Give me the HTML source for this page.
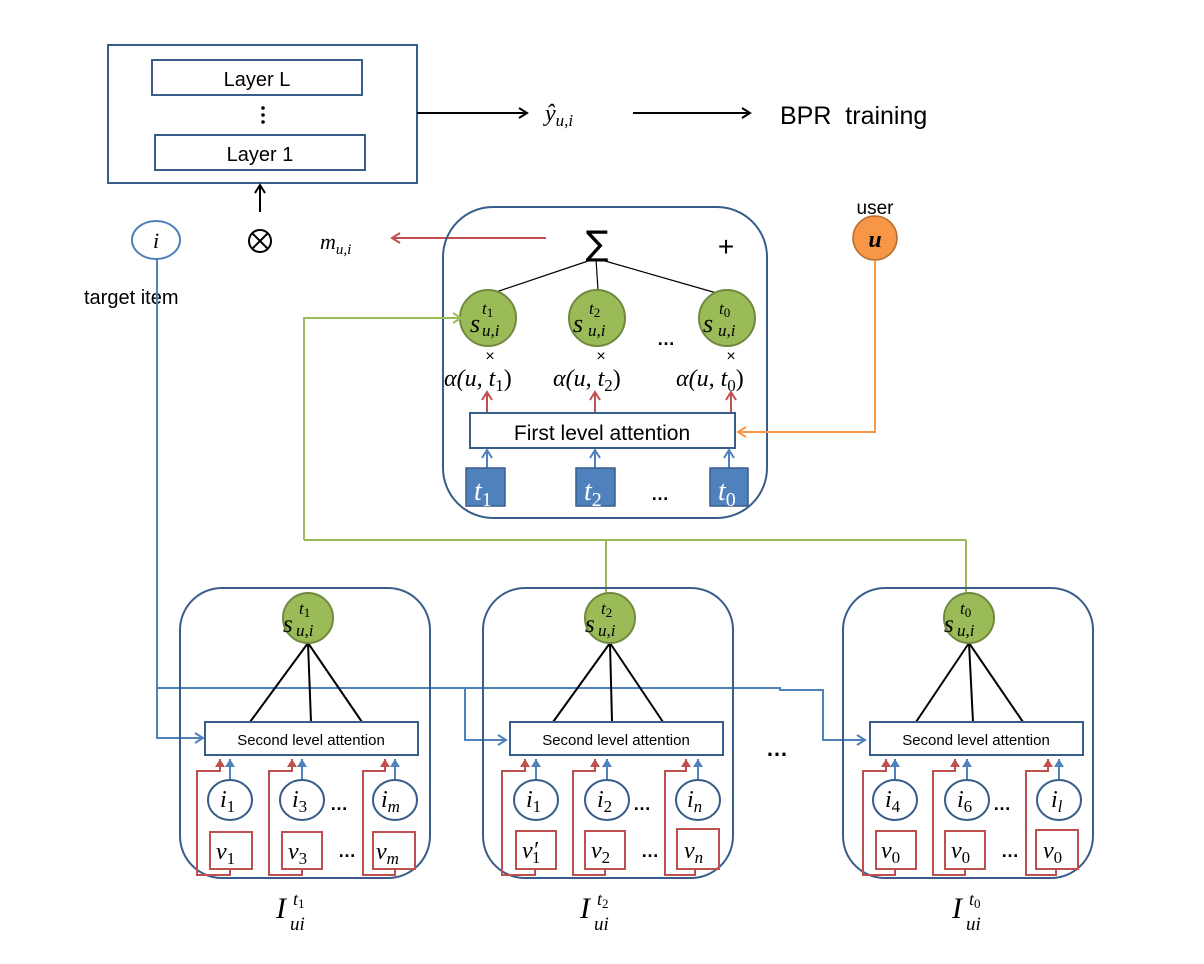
<!DOCTYPE html>
<html><head><meta charset="utf-8"><style>
html,body{margin:0;padding:0;background:#fff;}
svg{display:block;}
.m{font-family:"Liberation Serif",serif;font-style:italic;}
.s{font-family:"Liberation Sans",sans-serif;}
.d{font-style:normal;}
.dots{font-family:"Liberation Sans",sans-serif;font-size:18px;font-weight:bold;}
</style></head><body>
<svg width="1204" height="964" viewBox="0 0 1204 964" xmlns="http://www.w3.org/2000/svg">
<defs>
<marker id="ak" markerWidth="12" markerHeight="12" refX="10" refY="6" orient="auto" markerUnits="userSpaceOnUse"><path d="M2,1 L10,6 L2,11" fill="none" stroke="#000" stroke-width="2"/></marker>
<marker id="ab" markerWidth="12" markerHeight="12" refX="10" refY="6" orient="auto" markerUnits="userSpaceOnUse"><path d="M2,1 L10,6 L2,11" fill="none" stroke="#4f81bd" stroke-width="2"/></marker>
<marker id="ar" markerWidth="12" markerHeight="12" refX="10" refY="6" orient="auto" markerUnits="userSpaceOnUse"><path d="M2,1 L10,6 L2,11" fill="none" stroke="#c0504d" stroke-width="2"/></marker>
<marker id="ag" markerWidth="12" markerHeight="12" refX="10" refY="6" orient="auto" markerUnits="userSpaceOnUse"><path d="M2,1 L10,6 L2,11" fill="none" stroke="#9bbb59" stroke-width="2"/></marker>
<marker id="ao" markerWidth="12" markerHeight="12" refX="10" refY="6" orient="auto" markerUnits="userSpaceOnUse"><path d="M2,1 L10,6 L2,11" fill="none" stroke="#f79646" stroke-width="2"/></marker>
<marker id="tr" markerWidth="10" markerHeight="10" refX="8" refY="5" orient="auto" markerUnits="userSpaceOnUse"><path d="M0,0 L8,5 L0,10 Z" fill="#c0504d"/></marker>
<marker id="tb" markerWidth="10" markerHeight="10" refX="8" refY="5" orient="auto" markerUnits="userSpaceOnUse"><path d="M0,0 L8,5 L0,10 Z" fill="#4f81bd"/></marker>
</defs>

<!-- top box -->
<rect x="108" y="45" width="309" height="138" fill="none" stroke="#385d8a" stroke-width="2"/>
<rect x="152" y="60" width="210" height="35" fill="none" stroke="#385d8a" stroke-width="2"/>
<text x="257" y="86" text-anchor="middle" class="s" font-size="20">Layer L</text>
<circle cx="263" cy="108" r="1.8"/><circle cx="263" cy="115" r="1.8"/><circle cx="263" cy="122" r="1.8"/>
<rect x="155" y="135" width="210" height="35" fill="none" stroke="#385d8a" stroke-width="2"/>
<text x="260" y="161" text-anchor="middle" class="s" font-size="20">Layer 1</text>

<line x1="417" y1="113" x2="527" y2="113" stroke="#000" stroke-width="2" marker-end="url(#ak)"/>
<text x="545" y="121" class="m" font-size="24">ŷ<tspan font-size="17" dy="5">u,i</tspan></text>
<line x1="633" y1="113" x2="750" y2="113" stroke="#000" stroke-width="2" marker-end="url(#ak)"/>
<text x="780" y="124" class="s" font-size="25">BPR&#160; training</text>

<line x1="260" y1="212" x2="260" y2="185" stroke="#000" stroke-width="2" marker-end="url(#ak)"/>
<circle cx="260" cy="241" r="11" fill="none" stroke="#000" stroke-width="2"/>
<line x1="252" y1="233" x2="268" y2="249" stroke="#000" stroke-width="2"/>
<line x1="268" y1="233" x2="252" y2="249" stroke="#000" stroke-width="2"/>

<ellipse cx="156" cy="240" rx="24" ry="19" fill="#fff" stroke="#4f81bd" stroke-width="2"/>
<text x="156" y="248" text-anchor="middle" class="m" font-size="22">i</text>
<text x="84" y="304" class="s" font-size="20">target item</text>

<text x="320" y="249" class="m" font-size="22">m<tspan font-size="15" dy="5">u,i</tspan></text>
<line x1="546" y1="238" x2="392" y2="238" stroke="#c0504d" stroke-width="2" marker-end="url(#ar)"/>

<!-- blue target item lines -->
<path d="M157,259 V738 H203" fill="none" stroke="#4f81bd" stroke-width="2" marker-end="url(#ab)"/>
<path d="M157,688 H465 V740 H506" fill="none" stroke="#4f81bd" stroke-width="2" marker-end="url(#ab)"/>
<path d="M465,688 H780 V690 H823 V740 H865" fill="none" stroke="#4f81bd" stroke-width="2" marker-end="url(#ab)"/>

<!-- middle box -->
<rect x="443" y="207" width="324" height="311" rx="50" fill="none" stroke="#385d8a" stroke-width="2"/>
<text x="597" y="255" text-anchor="middle" font-family="DejaVu Sans,sans-serif" font-size="34">∑</text>
<text x="726" y="256" text-anchor="middle" class="s" font-size="28">+</text>
<line x1="594" y1="259" x2="496" y2="292" stroke="#000" stroke-width="1.2"/>
<line x1="596" y1="259" x2="598" y2="290" stroke="#000" stroke-width="1.2"/>
<line x1="598" y1="259" x2="720" y2="294" stroke="#000" stroke-width="1.2"/>
<g class="m">
<circle cx="488" cy="318" r="28" fill="#9bbb59" stroke="#71893f" stroke-width="2"/>
<text x="470" y="332" font-size="26">s</text><text x="482" y="314" font-size="17">t<tspan class="d" font-size="13" dy="3">1</tspan></text><text x="482" y="336" font-size="17">u,i</text>
<circle cx="597" cy="318" r="28" fill="#9bbb59" stroke="#71893f" stroke-width="2"/>
<text x="573" y="332" font-size="26">s</text><text x="589" y="314" font-size="17">t<tspan class="d" font-size="13" dy="3">2</tspan></text><text x="588" y="336" font-size="17">u,i</text>
<circle cx="727" cy="318" r="28" fill="#9bbb59" stroke="#71893f" stroke-width="2"/>
<text x="703" y="332" font-size="26">s</text><text x="719" y="314" font-size="17">t<tspan class="d" font-size="13" dy="3">0</tspan></text><text x="718" y="336" font-size="17">u,i</text>
</g>
<text x="657" y="345" class="dots">…</text>
<g class="s" font-size="16" text-anchor="middle"><text x="490" y="361">×</text><text x="601" y="361">×</text><text x="731" y="361">×</text></g>
<g class="m" font-size="24"><text x="444" y="386">α(u, t<tspan class="d" font-size="17" dy="5">1</tspan><tspan class="d" dy="-5">)</tspan></text>
<text x="553" y="386">α(u, t<tspan class="d" font-size="17" dy="5">2</tspan><tspan class="d" dy="-5">)</tspan></text>
<text x="676" y="386">α(u, t<tspan class="d" font-size="17" dy="5">0</tspan><tspan class="d" dy="-5">)</tspan></text></g>
<g stroke="#c0504d" stroke-width="2">
<line x1="487" y1="413" x2="487" y2="392" marker-end="url(#ar)"/>
<line x1="595" y1="413" x2="595" y2="392" marker-end="url(#ar)"/>
<line x1="731" y1="413" x2="731" y2="392" marker-end="url(#ar)"/>
</g>
<rect x="470" y="413" width="265" height="35" fill="#fff" stroke="#385d8a" stroke-width="2"/>
<text x="602" y="440" text-anchor="middle" class="s" font-size="21">First level attention</text>
<g stroke="#4f81bd" stroke-width="2">
<line x1="487" y1="468" x2="487" y2="450" marker-end="url(#ab)"/>
<line x1="595" y1="468" x2="595" y2="450" marker-end="url(#ab)"/>
<line x1="729" y1="468" x2="729" y2="450" marker-end="url(#ab)"/>
</g>
<g fill="#4f81bd" stroke="#385d8a" stroke-width="1.5">
<rect x="466" y="468" width="39" height="38"/><rect x="576" y="468" width="39" height="38"/><rect x="710" y="468" width="38" height="38"/>
</g>
<g class="m" fill="#fff" font-size="28"><text x="474" y="500">t<tspan class="d" font-size="20" dy="6">1</tspan></text><text x="584" y="500">t<tspan class="d" font-size="20" dy="6">2</tspan></text><text x="718" y="500">t<tspan class="d" font-size="20" dy="6">0</tspan></text></g>
<text x="651" y="500" class="dots">…</text>

<!-- user -->
<text x="875" y="214" text-anchor="middle" class="s" font-size="19">user</text>
<circle cx="875" cy="238" r="22" fill="#f79646" stroke="#b66d31" stroke-width="1.5"/>
<text x="875" y="247" text-anchor="middle" class="m" font-size="24" font-weight="bold">u</text>
<path d="M875,260 V432 H738" fill="none" stroke="#f79646" stroke-width="2" marker-end="url(#ao)"/>

<!-- green -->
<path d="M304,540 V318 H461" fill="none" stroke="#9bbb59" stroke-width="2" marker-end="url(#ag)"/>
<path d="M304,540 H966 M606,540 V593 M966,540 V593" fill="none" stroke="#9bbb59" stroke-width="2"/>

<text x="766" y="756" class="s" font-size="22" font-weight="bold">…</text>

<!-- bottom box 1 -->
<g transform="translate(180,0)">
<rect x="0" y="588" width="250" height="290" rx="42" fill="none" stroke="#385d8a" stroke-width="2"/>
<g stroke="#000" stroke-width="2"><line x1="128" y1="643" x2="70" y2="722"/><line x1="128" y1="643" x2="131" y2="722"/><line x1="128" y1="643" x2="182" y2="722"/></g>
<circle cx="128" cy="618" r="25" fill="#9bbb59" stroke="#71893f" stroke-width="2"/>
<g class="m"><text x="103" y="632" font-size="25">s</text><text x="119" y="614" font-size="17">t<tspan class="d" font-size="13" dy="3">1</tspan></text><text x="116" y="636" font-size="17">u,i</text></g>
<rect x="25" y="722" width="213" height="33" fill="#fff" stroke="#385d8a" stroke-width="2"/>
<text x="131" y="745" text-anchor="middle" class="s" font-size="15">Second level attention</text>
<g fill="none" stroke="#c0504d" stroke-width="2">
<path d="M50,869 V875 H17 V771 H40 V759" marker-end="url(#tr)"/>
<path d="M122,869 V875 H89 V771 H112 V759" marker-end="url(#tr)"/>
<path d="M215,869 V875 H183 V771 H205 V759" marker-end="url(#tr)"/>
<rect x="30" y="832" width="42" height="37"/><rect x="102" y="832" width="40" height="37"/><rect x="193" y="832" width="42" height="37"/>
</g>
<g stroke="#4f81bd" stroke-width="2"><line x1="50" y1="780" x2="50" y2="759" marker-end="url(#tb)"/><line x1="122" y1="780" x2="122" y2="759" marker-end="url(#tb)"/><line x1="215" y1="780" x2="215" y2="759" marker-end="url(#tb)"/></g>
<g fill="#fff" stroke="#385d8a" stroke-width="2"><ellipse cx="50" cy="800" rx="22" ry="20"/><ellipse cx="122" cy="800" rx="22" ry="20"/><ellipse cx="215" cy="800" rx="22" ry="20"/></g>
<g class="m" font-size="24"><text x="40" y="807">i<tspan class="d" font-size="17" dy="5">1</tspan></text><text x="112" y="807">i<tspan class="d" font-size="17" dy="5">3</tspan></text><text x="201" y="807">i<tspan font-size="17" dy="5">m</tspan></text>
<text x="36" y="859">v<tspan class="d" font-size="17" dy="5">1</tspan></text><text x="108" y="859">v<tspan class="d" font-size="17" dy="5">3</tspan></text><text x="196" y="859">v<tspan font-size="17" dy="5">m</tspan></text></g>
<text x="150" y="810" class="dots">…</text><text x="158" y="857" class="dots">…</text>
<g class="m"><text x="96" y="918" font-size="30">I</text><text x="113" y="905" font-size="18">t<tspan class="d" font-size="13" dy="3">1</tspan></text><text x="110" y="930" font-size="19">ui</text></g>
</g>

<!-- bottom box 2 -->
<g transform="translate(483,0)">
<rect x="0" y="588" width="250" height="290" rx="42" fill="none" stroke="#385d8a" stroke-width="2"/>
<g stroke="#000" stroke-width="2"><line x1="127" y1="643" x2="70" y2="722"/><line x1="127" y1="643" x2="129" y2="722"/><line x1="127" y1="643" x2="180" y2="722"/></g>
<circle cx="127" cy="618" r="25" fill="#9bbb59" stroke="#71893f" stroke-width="2"/>
<g class="m"><text x="102" y="632" font-size="25">s</text><text x="118" y="614" font-size="17">t<tspan class="d" font-size="13" dy="3">2</tspan></text><text x="115" y="636" font-size="17">u,i</text></g>
<rect x="27" y="722" width="213" height="33" fill="#fff" stroke="#385d8a" stroke-width="2"/>
<text x="133" y="745" text-anchor="middle" class="s" font-size="15">Second level attention</text>
<g fill="none" stroke="#c0504d" stroke-width="2">
<path d="M52,869 V875 H19 V771 H42 V759" marker-end="url(#tr)"/>
<path d="M122,869 V875 H90 V771 H112 V759" marker-end="url(#tr)"/>
<path d="M212,869 V875 H182 V771 H203 V759" marker-end="url(#tr)"/>
<rect x="33" y="831" width="40" height="38"/><rect x="102" y="831" width="40" height="38"/><rect x="194" y="829" width="42" height="40"/>
</g>
<g stroke="#4f81bd" stroke-width="2"><line x1="53" y1="780" x2="53" y2="759" marker-end="url(#tb)"/><line x1="124" y1="780" x2="124" y2="759" marker-end="url(#tb)"/><line x1="215" y1="780" x2="215" y2="759" marker-end="url(#tb)"/></g>
<g fill="#fff" stroke="#385d8a" stroke-width="2"><ellipse cx="53" cy="800" rx="22" ry="20"/><ellipse cx="124" cy="800" rx="22" ry="20"/><ellipse cx="215" cy="800" rx="22" ry="20"/></g>
<g class="m" font-size="24"><text x="43" y="807">i<tspan class="d" font-size="17" dy="5">1</tspan></text><text x="114" y="807">i<tspan class="d" font-size="17" dy="5">2</tspan></text><text x="204" y="807">i<tspan font-size="17" dy="5">n</tspan></text>
<text x="39" y="858">v′<tspan class="d" font-size="17" dy="5" dx="-6">1</tspan></text><text x="108" y="858">v<tspan class="d" font-size="17" dy="5">2</tspan></text><text x="201" y="858">v<tspan font-size="17" dy="5">n</tspan></text></g>
<text x="150" y="810" class="dots">…</text><text x="158" y="857" class="dots">…</text>
<g class="m"><text x="97" y="918" font-size="30">I</text><text x="114" y="905" font-size="18">t<tspan class="d" font-size="13" dy="3">2</tspan></text><text x="111" y="930" font-size="19">ui</text></g>
</g>

<!-- bottom box 3 -->
<g transform="translate(843,0)">
<rect x="0" y="588" width="250" height="290" rx="42" fill="none" stroke="#385d8a" stroke-width="2"/>
<g stroke="#000" stroke-width="2"><line x1="126" y1="643" x2="73" y2="722"/><line x1="126" y1="643" x2="130" y2="722"/><line x1="126" y1="643" x2="180" y2="722"/></g>
<circle cx="126" cy="618" r="25" fill="#9bbb59" stroke="#71893f" stroke-width="2"/>
<g class="m"><text x="101" y="632" font-size="25">s</text><text x="117" y="614" font-size="17">t<tspan class="d" font-size="13" dy="3">0</tspan></text><text x="114" y="636" font-size="17">u,i</text></g>
<rect x="27" y="722" width="213" height="33" fill="#fff" stroke="#385d8a" stroke-width="2"/>
<text x="133" y="745" text-anchor="middle" class="s" font-size="15">Second level attention</text>
<g fill="none" stroke="#c0504d" stroke-width="2">
<path d="M52,869 V875 H20 V771 H43 V759" marker-end="url(#tr)"/>
<path d="M122,869 V875 H90 V771 H112 V759" marker-end="url(#tr)"/>
<path d="M213,869 V875 H183 V771 H205 V759" marker-end="url(#tr)"/>
<rect x="33" y="831" width="40" height="38"/><rect x="102" y="831" width="40" height="38"/><rect x="193" y="830" width="42" height="39"/>
</g>
<g stroke="#4f81bd" stroke-width="2"><line x1="52" y1="780" x2="52" y2="759" marker-end="url(#tb)"/><line x1="124" y1="780" x2="124" y2="759" marker-end="url(#tb)"/><line x1="216" y1="780" x2="216" y2="759" marker-end="url(#tb)"/></g>
<g fill="#fff" stroke="#385d8a" stroke-width="2"><ellipse cx="52" cy="800" rx="22" ry="20"/><ellipse cx="124" cy="800" rx="22" ry="20"/><ellipse cx="216" cy="800" rx="22" ry="20"/></g>
<g class="m" font-size="24"><text x="42" y="807">i<tspan class="d" font-size="17" dy="5">4</tspan></text><text x="114" y="807">i<tspan class="d" font-size="17" dy="5">6</tspan></text><text x="208" y="807">i<tspan font-size="17" dy="5">l</tspan></text>
<text x="38" y="858">v<tspan class="d" font-size="17" dy="5">0</tspan></text><text x="108" y="858">v<tspan class="d" font-size="17" dy="5">0</tspan></text><text x="200" y="858">v<tspan class="d" font-size="17" dy="5">0</tspan></text></g>
<text x="150" y="810" class="dots">…</text><text x="158" y="857" class="dots">…</text>
<g class="m"><text x="109" y="918" font-size="30">I</text><text x="126" y="905" font-size="18">t<tspan class="d" font-size="13" dy="3">0</tspan></text><text x="123" y="930" font-size="19">ui</text></g>
</g>
</svg>
</body></html>
